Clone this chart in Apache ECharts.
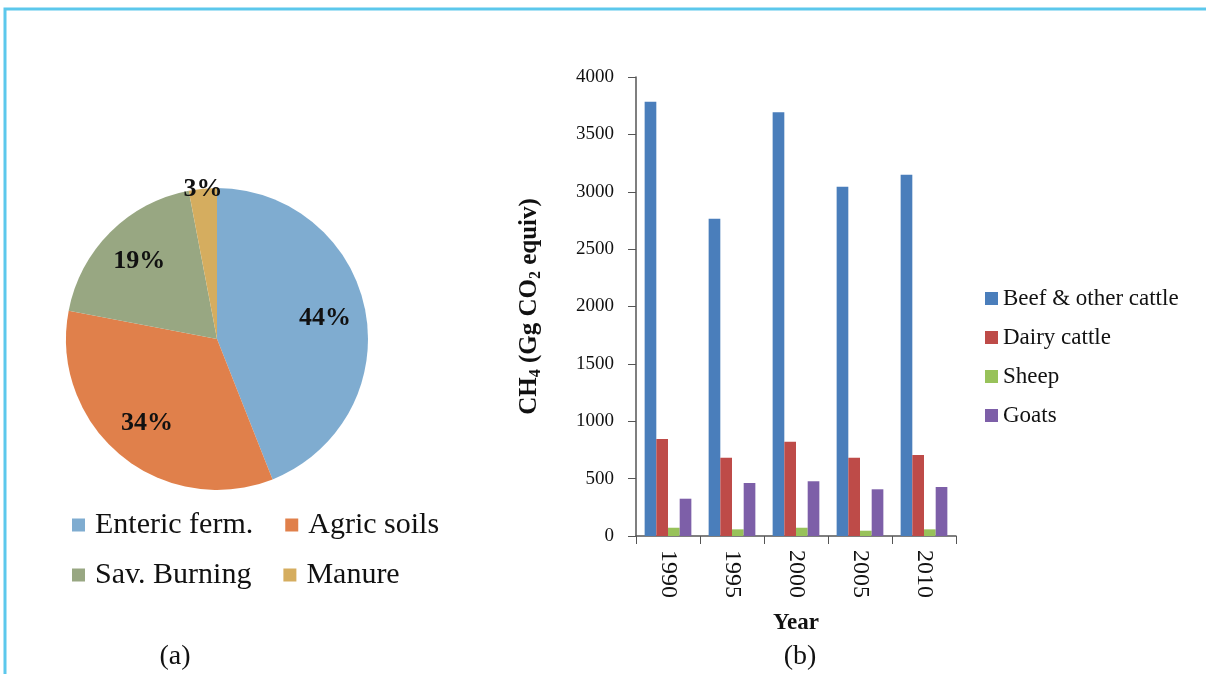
<!DOCTYPE html>
<html>
<head>
<meta charset="utf-8">
<title>CH4 emissions</title>
<script src="https://cdn.jsdelivr.net/npm/echarts@6/dist/echarts.min.js"></script>
<style>
  html, body { margin: 0; padding: 0; background: #fff; }
  #main { width: 1206px; height: 674px; }
</style>
</head>
<body>
<div id="main"></div>
<script>
// pie (a) data
let sources = ['Enteric ferm.', 'Agric soils', 'Sav. Burning', 'Manure'];
let shares = [44, 34, 19, 3];
let pieColors = ['#7facd0', '#e0804b', '#98a782', '#d5ad5f'];

// bar (b) data
let years = ['1990', '1995', '2000', '2005', '2010'];
let animals = ['Beef & other cattle', 'Dairy cattle', 'Sheep', 'Goats'];
let beef = [3785, 2765, 3692, 3044, 3149];
let dairy = [845, 682, 822, 682, 706];
let sheep = [72, 58, 72, 46, 58];
let goats = [325, 462, 477, 407, 427];
let barColors = ['#4a7ebb', '#be4b48', '#98c25a', '#7d5fa8'];
let yTicks = { min: 0, max: 4000, step: 500 };

let serif = '"Liberation Serif", "Times New Roman", serif';

let app = {};

app.pieData = function(labelFor) {
    let out = [];
    for (let i = 0; i < sources.length; i++) {
        out.push({
            name: sources[i],
            value: shares[i],
            label: { show: labelFor(i) }
        });
    }
    return out;
};

let barSeries = [];
let barValues = [beef, dairy, sheep, goats];
for (let i = 0; i < animals.length; i++) {
    barSeries.push({
        name: animals[i],
        type: 'bar',
        data: barValues[i],
        barGap: '0%',
        barCategoryGap: '27%',
        itemStyle: { color: barColors[i] }
    });
}

let pieLabel = {
    position: 'inside',
    formatter: '{c}%',
    color: '#111',
    fontFamily: serif,
    fontWeight: 'bold',
    fontSize: 26
};

let legendText = { fontFamily: serif, color: '#111', fontSize: 30, padding: [0, 0, 0, 5] };

var myChart = echarts.init(document.getElementById('main'));

var option = {
    backgroundColor: '#fff',
    animation: false,
    color: pieColors,
    title: [
        { text: '(a)', left: 170, top: 638, textAlign: 'center',
          textStyle: { fontFamily: serif, fontWeight: 'normal', fontSize: 28, color: '#111' } },
        { text: '(b)', left: 795, top: 638, textAlign: 'center',
          textStyle: { fontFamily: serif, fontWeight: 'normal', fontSize: 28, color: '#111' } }
    ],
    legend: [
        { data: [sources[0], sources[1]], left: 72, top: 510, padding: 0, icon: 'rect',
          itemWidth: 13, itemHeight: 13, itemGap: 32, textStyle: legendText, selectedMode: false },
        { data: [sources[2], sources[3]], left: 72, top: 560, padding: 0, icon: 'rect',
          itemWidth: 13, itemHeight: 13, itemGap: 32, textStyle: legendText, selectedMode: false },
        { data: animals, orient: 'vertical', left: 985, top: 287, padding: 0, icon: 'rect',
          itemWidth: 13, itemHeight: 13, itemGap: 16, selectedMode: false,
          textStyle: { fontFamily: serif, color: '#111', fontSize: 23, padding: [0, 0, 0, 0] } }
    ],
    grid: { left: 636, top: 77, width: 320, height: 459 },
    xAxis: {
        type: 'category',
        data: years,
        name: 'Year',
        nameLocation: 'middle',
        nameGap: 76,
        nameTextStyle: { fontFamily: serif, fontWeight: 'bold', fontSize: 23, color: '#111' },
        axisLine: { lineStyle: { color: '#555', width: 1.5 } },
        axisTick: { show: true, length: 8, lineStyle: { color: '#555' } },
        axisLabel: { rotate: -90, margin: 14, fontFamily: serif, fontSize: 24, color: '#111' }
    },
    yAxis: {
        type: 'value',
        min: yTicks.min,
        max: yTicks.max,
        interval: yTicks.step,
        name: '{m|CH}{s|4}{m| (Gg CO}{s|2}{m| equiv)}',
        nameLocation: 'middle',
        nameGap: 92,
        nameTextStyle: {
            rich: {
                m: { fontFamily: serif, fontWeight: 'bold', fontSize: 25, color: '#111' },
                s: { fontFamily: serif, fontWeight: 'bold', fontSize: 16, color: '#111', padding: [12, 0, 0, 0] }
            }
        },
        splitLine: { show: false },
        axisLine: { show: true, lineStyle: { color: '#555', width: 1.5 } },
        axisTick: { show: true, length: 8, lineStyle: { color: '#555' } },
        axisLabel: {
            margin: 22, fontFamily: serif, fontSize: 19, color: '#111',
            formatter: function(v) { return String(v); }
        }
    },
    graphic: [
        { type: 'rect', silent: true, shape: { x: 5, y: 9, width: 1400, height: 900 },
          style: { fill: 'none', stroke: '#5cc8ec', lineWidth: 3 } }
    ],
    series: [
        {
            name: 'sources',
            type: 'pie',
            center: [217, 339],
            radius: 151,
            silent: true,
            label: { show: false },
            labelLine: { show: false },
            data: app.pieData(function() { return false; })
        },
        {
            name: 'labels',
            type: 'pie',
            center: [217, 339],
            radius: [63, 151],
            silent: true,
            itemStyle: { color: 'rgba(0,0,0,0)' },
            label: pieLabel,
            labelLine: { show: false },
            data: app.pieData(function(i) { return i < 3; })
        },
        {
            name: 'edge label',
            type: 'pie',
            center: [217, 339],
            radius: [138, 156],
            silent: true,
            itemStyle: { color: 'rgba(0,0,0,0)' },
            label: pieLabel,
            labelLine: { show: false },
            data: app.pieData(function(i) { return i == 3; })
        }
    ].concat(barSeries)
};

myChart.setOption(option);
</script>
</body>
</html>
